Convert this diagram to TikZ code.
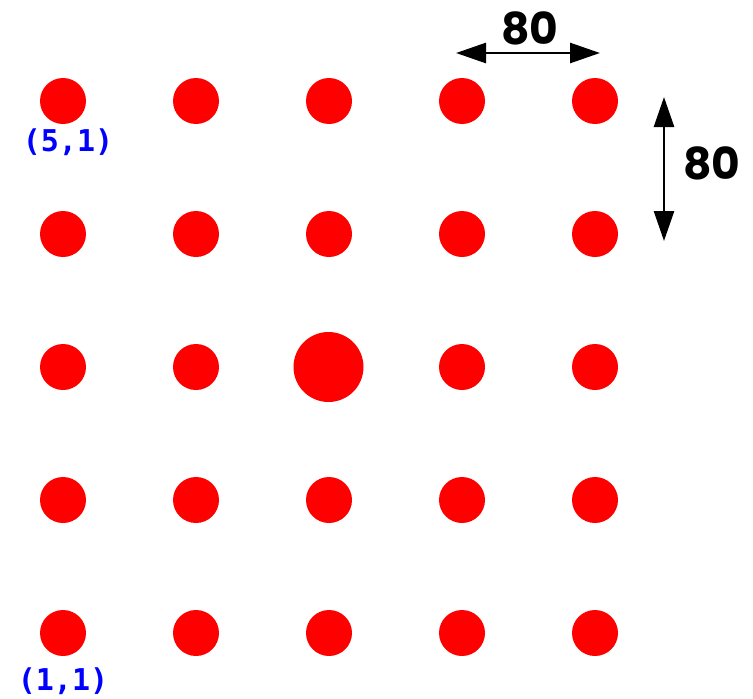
\documentclass[tikz,border=0pt]{standalone}
\usepackage{fontspec}
\setmainfont{Poppins}
\setmonofont{DejaVu Sans Mono}
\usetikzlibrary{arrows.meta}
\definecolor{dotred}{RGB}{255,0,0}
\definecolor{lblblue}{RGB}{0,0,255}
\tikzset{
  dot/.style={circle,fill=dotred,draw=none,minimum size=46pt,inner sep=0pt},
  bigdot/.style={circle,fill=dotred,draw=none,minimum size=70pt,inner sep=0pt},
  dimline/.style={line width=2.6pt,{Triangle[length=30pt,width=20pt]}-{Triangle[length=30pt,width=20pt]}},
  dimlabel/.style={font=\fontsize{44}{48}\selectfont\bfseries,text=black,inner sep=0pt},
  coordlabel/.style={font=\ttfamily\fontsize{30}{32}\selectfont\bfseries,text=lblblue,inner sep=0pt}
}
\begin{document}
\begin{tikzpicture}[x=1pt,y=-1pt]
\useasboundingbox (0,0) rectangle (753,699);
\foreach \i/\x in {1/63,2/196,3/329,4/462,5/595}{
  \foreach \j/\y in {1/101,2/234,3/367,4/500,5/633}{
    \ifnum\i=3 \ifnum\j=3 \else \node[dot] (d\i\j) at (\x,\y) {}; \fi
    \else \node[dot] (d\i\j) at (\x,\y) {}; \fi
  }
}
\node[bigdot] (d33) at (328.5,367) {};
\node[coordlabel] (l51) at (68,142) {(5,1)};
\node[coordlabel] (l11) at (63,681) {(1,1)};
\coordinate (hl) at (456,53);
\coordinate (hr) at (600,53);
\draw[dimline] (hl) -- (hr);
\node[dimlabel] (h80) at (530,28) {80};
\coordinate (vt) at (664,97);
\coordinate (vb) at (664,241);
\draw[dimline] (vt) -- (vb);
\node[dimlabel] (v80) at (712,163) {80};
\end{tikzpicture}
\end{document}
